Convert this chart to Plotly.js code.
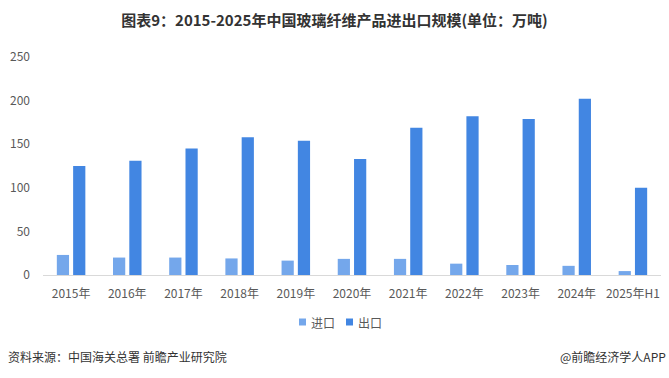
<!DOCTYPE html>
<html><head><meta charset="utf-8">
<script src="https://cdn.plot.ly/plotly-3.0.1.min.js"></script>
<style>body{margin:0;background:#fff}#c{width:669px;height:378px}</style>
</head><body><div id="c"></div>
<script>
const categories = ["2015年","2016年","2017年","2018年","2019年","2020年","2021年","2022年","2023年","2024年","2025年H1"];
const importVals = [23, 20, 20, 19, 16.5, 18.5, 18.5, 13, 11.5, 10.5, 4.5];
const exportVals = [125, 131, 145, 158, 154, 133, 169, 182, 179, 202, 100];
const yTicks = [0, 50, 100, 150, 200, 250];
const seriesNames = ["进口", "出口"];
const seriesColors = ["#74a7eb", "#4286e2"];
const font = "Noto Sans CJK SC, Noto Sans, sans-serif";

const traces = [
  {type:"bar", name:seriesNames[0], x:categories, y:importVals, marker:{color:seriesColors[0]}, hoverinfo:"none"},
  {type:"bar", name:seriesNames[1], x:categories, y:exportVals, marker:{color:seriesColors[1]}, hoverinfo:"none"}
];

// plot area: x 43..661 px, y 57..275 px
const px = v => (v - 43) / 618;
const py = v => (275 - v) / 218;
const legendShapes = [
  {type:"rect", xref:"paper", yref:"paper", x0:px(299), x1:px(306), y0:py(325.5), y1:py(318.5), fillcolor:seriesColors[0], line:{width:0}},
  {type:"rect", xref:"paper", yref:"paper", x0:px(346), x1:px(353), y0:py(325.5), y1:py(318.5), fillcolor:seriesColors[1], line:{width:0}}
];
const legendTexts = [
  {text:seriesNames[0], xref:"paper", yref:"paper", x:px(309), y:py(322), xanchor:"left", yanchor:"middle", showarrow:false, font:{size:12, color:"#595959"}},
  {text:seriesNames[1], xref:"paper", yref:"paper", x:px(356), y:py(322), xanchor:"left", yanchor:"middle", showarrow:false, font:{size:12, color:"#595959"}}
];

const layout = {
  width:669, height:378,
  margin:{l:43, r:8, t:57, b:103},
  paper_bgcolor:"#fff", plot_bgcolor:"#fff",
  font:{family:font, size:12, color:"#595959"},
  title:{text:"<b>图表9：2015-2025年中国玻璃纤维产品进出口规模(单位：万吨)</b>", x:0.5, xanchor:"center", y:0.945, yanchor:"middle", font:{family:font, size:15, color:"#333333"}},
  barmode:"group", bargap:0.42, bargroupgap:0.25,
  xaxis:{showline:true, linecolor:"#d9d9d9", linewidth:1, ticks:"", showgrid:false, tickfont:{size:12, color:"#595959"}, ticklabelstandoff:8},
  yaxis:{range:[0,250], tickvals:yTicks, showgrid:false, zeroline:false, showline:false, ticks:"", tickfont:{size:12, color:"#595959"}, ticklabelstandoff:12},
  showlegend:false,
  shapes:legendShapes,
  annotations:legendTexts.concat([
    {text:"资料来源：中国海关总署 前瞻产业研究院", xref:"paper", yref:"paper", x:px(6), y:py(356), xanchor:"left", yanchor:"middle", showarrow:false, font:{size:12, color:"#333333"}},
    {text:"@前瞻经济学人APP", xref:"paper", yref:"paper", x:px(668), y:py(356), xanchor:"right", yanchor:"middle", showarrow:false, font:{size:12, color:"#333333"}}
  ])
};
Plotly.newPlot("c", traces, layout, {staticPlot:true, displayModeBar:false});
</script></body></html>
